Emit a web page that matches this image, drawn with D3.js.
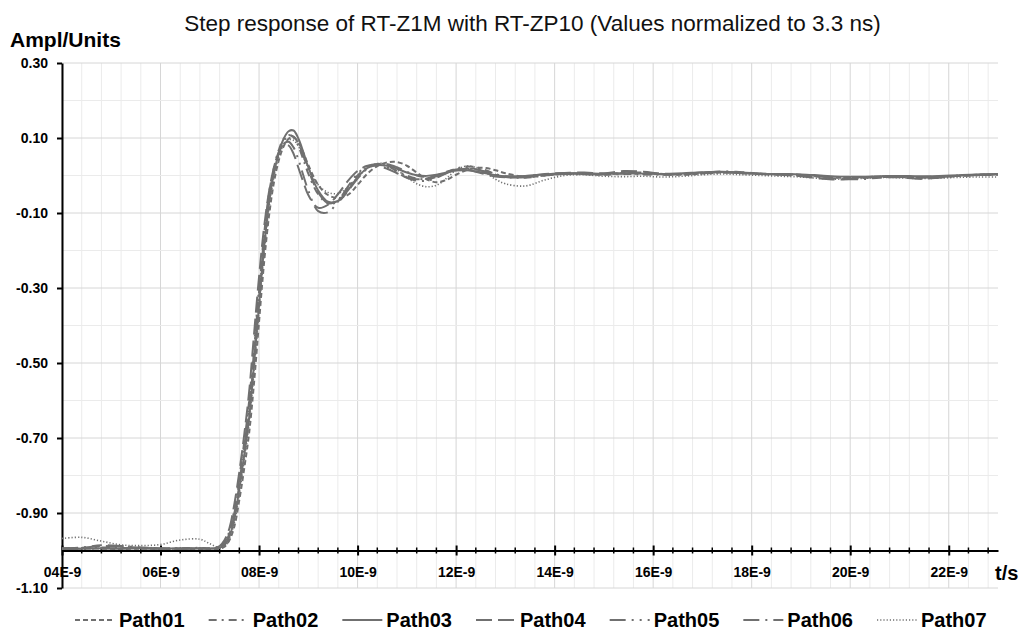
<!DOCTYPE html>
<html><head><meta charset="utf-8">
<script src="https://cdn.jsdelivr.net/npm/d3@7"></script>
<style>body{margin:0;background:#fff;} svg{display:block;font-family:"Liberation Sans",Arial,sans-serif;}</style>
</head><body><svg id="c" width="1021" height="630"></svg>
<script>
// time in ns
const times = [4.0,4.4,4.8,5.2,5.6,6.0,6.4,6.8,7.0,7.2,7.3,7.4,7.5,7.6,7.7,7.8,7.9,8.0,8.1,8.2,8.3,8.4,8.5,8.6,8.7,8.8,8.9,9.0,9.2,9.4,9.6,9.8,10.0,10.2,10.4,10.6,10.8,11.0,11.2,11.4,11.6,11.8,12.0,12.2,12.4,12.6,12.8,13.0,13.4,13.8,14.2,14.6,15.0,15.4,15.8,16.2,16.6,17.0,17.4,17.8,18.2,18.6,19.0,19.4,19.8,20.2,20.6,21.0,21.4,21.8,22.2,22.6,23.0];

const path01 = [-0.996,-0.995,-0.995,-0.996,-0.995,-0.996,-0.995,-0.996,-0.996,-0.995,-0.99,-0.972,-0.935,-0.865,-0.78,-0.685,-0.55,-0.39,-0.235,-0.11,-0.02,0.04,0.078,0.098,0.102,0.088,0.06,0.028,-0.025,-0.052,-0.06,-0.052,-0.025,0.005,0.025,0.035,0.036,0.026,0.008,-0.01,-0.018,-0.012,0.002,0.014,0.02,0.02,0.014,0.006,-0.003,0.0,0.005,0.004,0.003,0.007,0.008,0.004,0.002,0.005,0.008,0.007,0.004,0.003,0.002,-0.002,-0.006,-0.005,-0.003,-0.004,-0.005,-0.003,-0.001,0.002,0.003];
const path02 = [-0.994,-0.993,-0.992,-0.993,-0.994,-0.995,-0.994,-0.993,-0.994,-0.99,-0.978,-0.948,-0.89,-0.805,-0.71,-0.6,-0.45,-0.3,-0.16,-0.05,0.02,0.068,0.098,0.108,0.102,0.078,0.042,0.005,-0.05,-0.074,-0.066,-0.035,0.0,0.022,0.03,0.025,0.012,0.0,-0.008,-0.01,-0.004,0.008,0.018,0.024,0.022,0.014,0.004,-0.004,-0.006,0.0,0.004,0.003,0.002,0.004,0.003,0.002,0.003,0.006,0.008,0.006,0.004,0.002,0.0,-0.003,-0.005,-0.006,-0.004,-0.003,-0.004,-0.003,0.0,0.001,0.002];
const path03 = [-0.995,-0.995,-0.994,-0.995,-0.994,-0.995,-0.994,-0.995,-0.995,-0.993,-0.985,-0.962,-0.915,-0.835,-0.745,-0.645,-0.5,-0.345,-0.195,-0.075,0.005,0.06,0.098,0.118,0.12,0.098,0.062,0.022,-0.04,-0.07,-0.068,-0.04,-0.005,0.02,0.028,0.026,0.018,0.008,0.001,-0.001,0.002,0.008,0.013,0.014,0.011,0.006,0.001,-0.002,-0.001,0.003,0.006,0.006,0.005,0.006,0.005,0.004,0.006,0.009,0.01,0.008,0.005,0.004,0.003,0.0,-0.003,-0.003,-0.002,-0.001,-0.002,-0.001,0.001,0.003,0.004];
const path04 = [-0.995,-0.993,-0.988,-0.99,-0.993,-0.995,-0.995,-0.994,-0.994,-0.988,-0.972,-0.94,-0.875,-0.79,-0.69,-0.575,-0.42,-0.27,-0.14,-0.045,0.02,0.062,0.082,0.08,0.058,0.02,-0.018,-0.052,-0.086,-0.078,-0.05,-0.015,0.012,0.026,0.026,0.018,0.006,-0.005,-0.01,-0.008,0.0,0.01,0.016,0.016,0.01,0.003,-0.003,-0.005,-0.002,0.004,0.007,0.008,0.006,0.012,0.01,0.005,0.005,0.008,0.009,0.006,0.004,0.002,-0.002,-0.008,-0.011,-0.007,-0.004,-0.005,-0.009,-0.006,-0.001,0.002,0.004];
const path05 = [-0.996,-0.996,-0.995,-0.994,-0.993,-0.995,-0.996,-0.995,-0.996,-0.993,-0.982,-0.955,-0.9,-0.82,-0.725,-0.615,-0.465,-0.31,-0.17,-0.06,0.012,0.058,0.085,0.09,0.075,0.042,0.0,-0.04,-0.095,-0.098,-0.07,-0.03,0.005,0.025,0.03,0.022,0.008,-0.006,-0.014,-0.014,-0.006,0.006,0.016,0.02,0.017,0.01,0.002,-0.004,-0.005,0.001,0.004,0.004,0.003,0.006,0.006,0.003,0.004,0.007,0.009,0.007,0.005,0.003,0.001,-0.003,-0.006,-0.005,-0.003,-0.003,-0.005,-0.004,-0.001,0.001,0.003];
const path06 = [-0.995,-0.992,-0.986,-0.988,-0.992,-0.994,-0.995,-0.994,-0.995,-0.991,-0.98,-0.955,-0.905,-0.825,-0.73,-0.625,-0.48,-0.325,-0.18,-0.065,0.01,0.06,0.092,0.106,0.104,0.085,0.052,0.015,-0.045,-0.074,-0.07,-0.042,-0.008,0.018,0.03,0.03,0.022,0.01,0.0,-0.004,-0.002,0.006,0.014,0.018,0.016,0.01,0.003,-0.002,-0.004,0.001,0.005,0.005,0.004,0.005,0.004,0.003,0.004,0.007,0.011,0.009,0.005,0.003,0.001,-0.004,-0.009,-0.01,-0.006,-0.004,-0.006,-0.004,-0.001,0.002,0.003];
const path07 = [-0.968,-0.965,-0.975,-0.985,-0.987,-0.984,-0.972,-0.97,-0.982,-0.993,-0.99,-0.97,-0.925,-0.85,-0.76,-0.66,-0.52,-0.36,-0.21,-0.09,-0.005,0.05,0.082,0.095,0.094,0.078,0.05,0.02,-0.025,-0.045,-0.048,-0.032,-0.005,0.02,0.032,0.03,0.015,-0.005,-0.022,-0.03,-0.026,-0.008,0.014,0.025,0.022,0.008,-0.01,-0.022,-0.028,-0.012,0.0,0.002,-0.002,-0.003,-0.002,-0.004,-0.002,0.002,0.004,0.002,0.0,-0.002,-0.004,-0.008,-0.01,-0.008,-0.005,-0.006,-0.008,-0.007,-0.005,-0.004,-0.004];

const seriesNames = ["Path01","Path02","Path03","Path04","Path05","Path06","Path07"];
const seriesValues = [path01,path02,path03,path04,path05,path06,path07];
const seriesDash = ["5,3","8,5,2,5",null,"16,6","16,6,2,6,2,6","16,6,2,6,10,6","1.2,2"];
const seriesWidth = [2,2,2,2,2,2,1.6];

const yTickValues = [0.30,0.10,-0.10,-0.30,-0.50,-0.70,-0.90,-1.10];
const xTickValues = [4,6,8,10,12,14,16,18,20,22];
const xTickLabels = ["04E-9","06E-9","08E-9","10E-9","12E-9","14E-9","16E-9","18E-9","20E-9","22E-9"];

const lineColor = "#707070";
const svg = d3.select("#c");
const x = d3.scaleLinear().domain([4,23]).range([62,998]);
const y = d3.scaleLinear().domain([-1.1,0.3]).range([588,63]);

// grid
const grid = svg.append("g");
const minorX = d3.range(0,48).map(i => 4 + i*0.4);
grid.selectAll("line.vx").data(minorX).join("line")
  .attr("x1", d => x(d)).attr("x2", d => x(d))
  .attr("y1", y(0.3)).attr("y2", y(-1.1))
  .attr("stroke", (d,i) => i%5===0 ? "#d6d6d6" : "#ebebeb").attr("stroke-width",1);
const minorY = d3.range(0,15).map(i => -1.1 + i*0.1);
grid.selectAll("line.hy").data(minorY).join("line")
  .attr("x1", x(4)).attr("x2", x(23))
  .attr("y1", d => y(d)).attr("y2", d => y(d))
  .attr("stroke", (d,i) => i%2===0 ? "#d6d6d6" : "#ebebeb").attr("stroke-width",1);

// y axis
const yAxis = svg.append("g").attr("transform", `translate(${x(4)},0)`)
  .call(d3.axisLeft(y).tickValues(yTickValues).tickFormat(d => d.toFixed(2)).tickSize(5).tickSizeOuter(0).tickPadding(9));
yAxis.select(".domain").attr("stroke","#000").attr("stroke-width",2);
yAxis.selectAll(".tick line").attr("stroke","#000").attr("stroke-width",2);
yAxis.selectAll("text").attr("font-size",14).attr("font-weight","bold").attr("fill","#000")
  .attr("font-family",'"Liberation Sans",Arial,sans-serif');

// x axis at y = -1.0
const xAxis = svg.append("g").attr("transform", `translate(0,${y(-1.0)})`)
  .call(d3.axisBottom(x).tickValues(xTickValues).tickFormat((d,i) => xTickLabels[i]).tickSize(5).tickSizeOuter(0));
xAxis.select(".domain").attr("stroke","#000").attr("stroke-width",2);
xAxis.selectAll(".tick line").attr("y1",-5).attr("y2",5).attr("stroke","#000").attr("stroke-width",2);
xAxis.selectAll("text").attr("y",16.5).attr("font-size",14).attr("font-weight","bold").attr("fill","#000")
  .attr("font-family",'"Liberation Sans",Arial,sans-serif');
const minorTicks = minorX.filter((d,i) => i%5!==0);
xAxis.selectAll("line.mt").data(minorTicks).join("line")
  .attr("x1", d => x(d)).attr("x2", d => x(d)).attr("y1",-3).attr("y2",3)
  .attr("stroke","#000").attr("stroke-width",1.5);

// lines
const lineGen = d3.line().x(d => x(d[0])).y(d => y(d[1])).curve(d3.curveCatmullRom.alpha(0.5));
svg.append("g").selectAll("path.s").data(seriesValues).join("path")
  .attr("d", vals => lineGen(times.map((t,i) => [t, vals[i]])))
  .attr("fill","none").attr("stroke",lineColor)
  .attr("stroke-width",(d,i) => seriesWidth[i])
  .attr("stroke-dasharray",(d,i) => seriesDash[i]);

// title and axis titles
svg.append("text").attr("x",532.5).attr("y",31).attr("text-anchor","middle")
  .attr("font-size",22.5).attr("fill","#111").text("Step response of RT-Z1M with RT-ZP10 (Values normalized to 3.3 ns)");
svg.append("text").attr("x",10).attr("y",47).attr("font-size",21).attr("font-weight","bold").text("Ampl/Units");
svg.append("text").attr("x",995).attr("y",580).attr("font-size",20).attr("font-weight","bold").text("t/s");

// legend
const legX = d3.scaleLinear().domain([0,6]).range([75,877]);
const leg = svg.append("g").selectAll("g").data(seriesNames).join("g")
  .attr("transform",(d,i) => `translate(${legX(i)},0)`);
leg.append("line").attr("x1",0).attr("x2",40).attr("y1",620).attr("y2",620)
  .attr("stroke",lineColor).attr("stroke-width",(d,i)=>seriesWidth[i]).attr("stroke-dasharray",(d,i)=>seriesDash[i]);
leg.append("text").attr("x",44).attr("y",627).attr("font-size",20).attr("font-weight","bold").text(d => d);
</script></body></html>
